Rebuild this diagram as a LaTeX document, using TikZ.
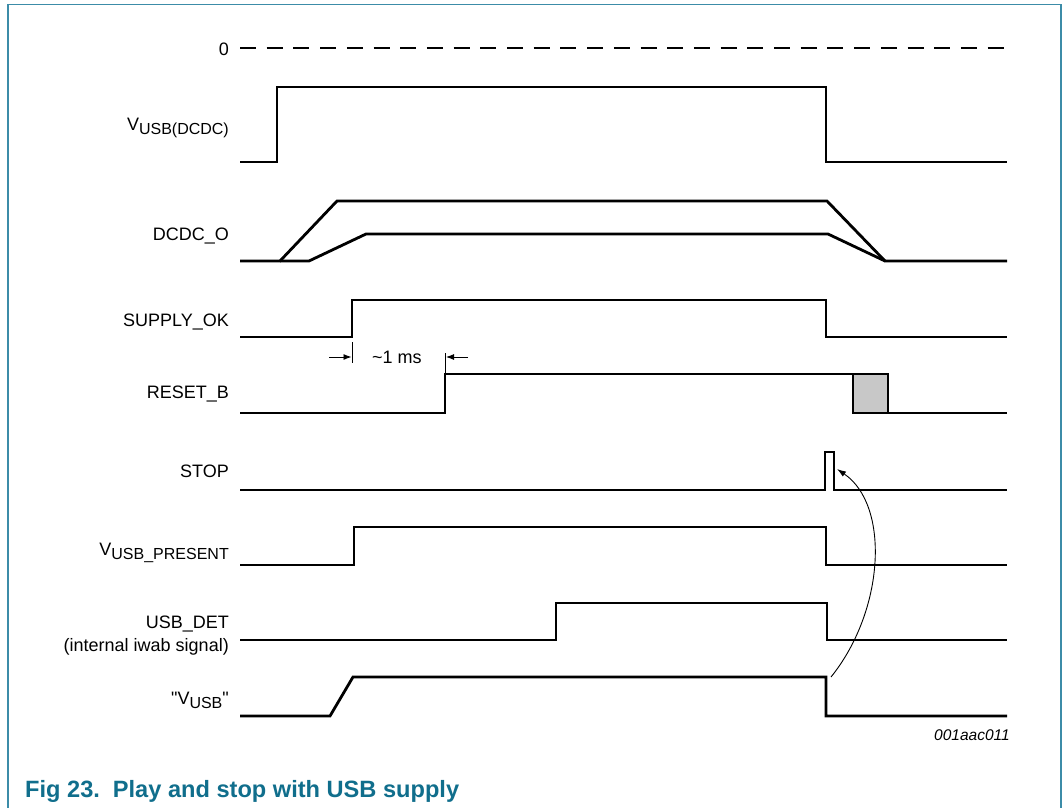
\documentclass[tikz,border=0pt]{standalone}
\usepackage{fontspec}
\setmainfont{Liberation Sans}
\usetikzlibrary{arrows.meta}
\definecolor{capteal}{RGB}{16,110,140}
\definecolor{frameteal}{RGB}{60,140,168}
\definecolor{boxgray}{RGB}{200,200,200}
\newcommand{\lbsub}[1]{\raisebox{-4pt}{\fontsize{16}{16}\selectfont #1}}
\begin{document}
\begin{tikzpicture}[x=1pt,y=-1pt,
  sig/.style={line width=2.8pt, line join=miter},
  lbl/.style={anchor=base east, inner sep=0pt, font=\fontsize{18}{21}\selectfont},
  thinline/.style={line width=0.9pt},
  dimarrow/.style={thinline,-{Latex[length=8pt,width=6pt]}}]
\useasboundingbox (0,0) rectangle (1063,808);
% frame
\draw[frameteal, line width=1.5pt] (8,815) -- (8,4.5) -- (1061,4.5) -- (1061,815);
% labels
\node[lbl] (l0) at (229,55.5) {0};
\node[lbl] (l1) at (229,130) {V\lbsub{USB(DCDC)}};
\node[lbl] (l2) at (229,240) {DCDC\_O};
\node[lbl] (l3) at (229,326) {SUPPLY\_OK};
\node[lbl] (l4) at (229,398) {RESET\_B};
\node[lbl] (l5) at (229,477) {STOP};
\node[lbl] (l6) at (229,555) {V\lbsub{USB\_PRESENT}};
\node[lbl] (l7) at (229,628) {USB\_DET};
\node[lbl] (l7b) at (229,651) {(internal iwab signal)};
\node[lbl] (l8) at (229,704) {\textquotedbl V\lbsub{USB}\textquotedbl};
% zero line
\draw[sig, dash pattern=on 16pt off 10.7pt] (240,48) -- (1005,48);
% VUSB(DCDC)
\draw[sig] (240,162) -| (277,87) -| (826,162) -- (1007,162);
% DCDC_O
\draw[sig] (240,261) -- (280,261) -- (337,201) -- (827,201) -- (885,261) -- (1007,261);
\draw[sig] (280,261) -- (309,261) -- (366,234) -- (828,234) -- (885,261);
% SUPPLY_OK
\draw[sig] (240,337) -| (352,300) -| (826,337) -- (1007,337);
% RESET_B
\filldraw[sig, fill=boxgray] (853,374) rectangle (888,413);
\draw[sig] (240,413) -| (445,374) -- (888,374) -- (888,413) -- (1007,413);
% STOP
\draw[sig] (240,490) -| (825,452) -| (834,490) -- (1007,490);
% VUSB_PRESENT
\draw[sig] (240,565) -| (354,527) -| (826,565) -- (1007,565);
% USB_DET
\draw[sig] (240,640) -| (556,603) -| (827,640) -- (1007,640);
% VUSB
\draw[sig] (240,716) -- (330,716) -- (353,677) -| (826,716) -- (1007,716);
% ~1 ms dimension
\coordinate (t1a) at (352.5,342);
\coordinate (t1b) at (352.5,363);
\coordinate (t2a) at (445,353);
\coordinate (t2b) at (445,374);
\draw[thinline] (t1a) -- (t1b);
\draw[thinline] (t2a) -- (t2b);
\coordinate (a1s) at (329,357);
\coordinate (a1e) at (351.5,357);
\coordinate (a2s) at (468,357);
\coordinate (a2e) at (446,357);
\draw[dimarrow] (a1s) -- (a1e);
\draw[dimarrow] (a2s) -- (a2e);
\node[anchor=base west, inner sep=0pt, font=\fontsize{18}{21}\selectfont] (ms) at (372,363) {\textasciitilde1 ms};
% curved arrow
\coordinate (cs) at (831,677);
\coordinate (ce) at (837,469);
\draw[thinline,-{Latex[length=9pt,width=6pt]}] (cs) .. controls (885,610) and (890,505) .. (ce);
% figure id
\node[anchor=base east, inner sep=0pt, font=\fontsize{15.5}{18}\selectfont\itshape] (fid) at (1010,740) {001aac011};
% caption
\node[anchor=base west, inner sep=0pt, text=capteal, font=\fontsize{23.6}{27}\selectfont\bfseries] (cap) at (25,797) {Fig 23.\hspace{0.55em}Play and stop with USB supply};
\end{tikzpicture}
\end{document}
